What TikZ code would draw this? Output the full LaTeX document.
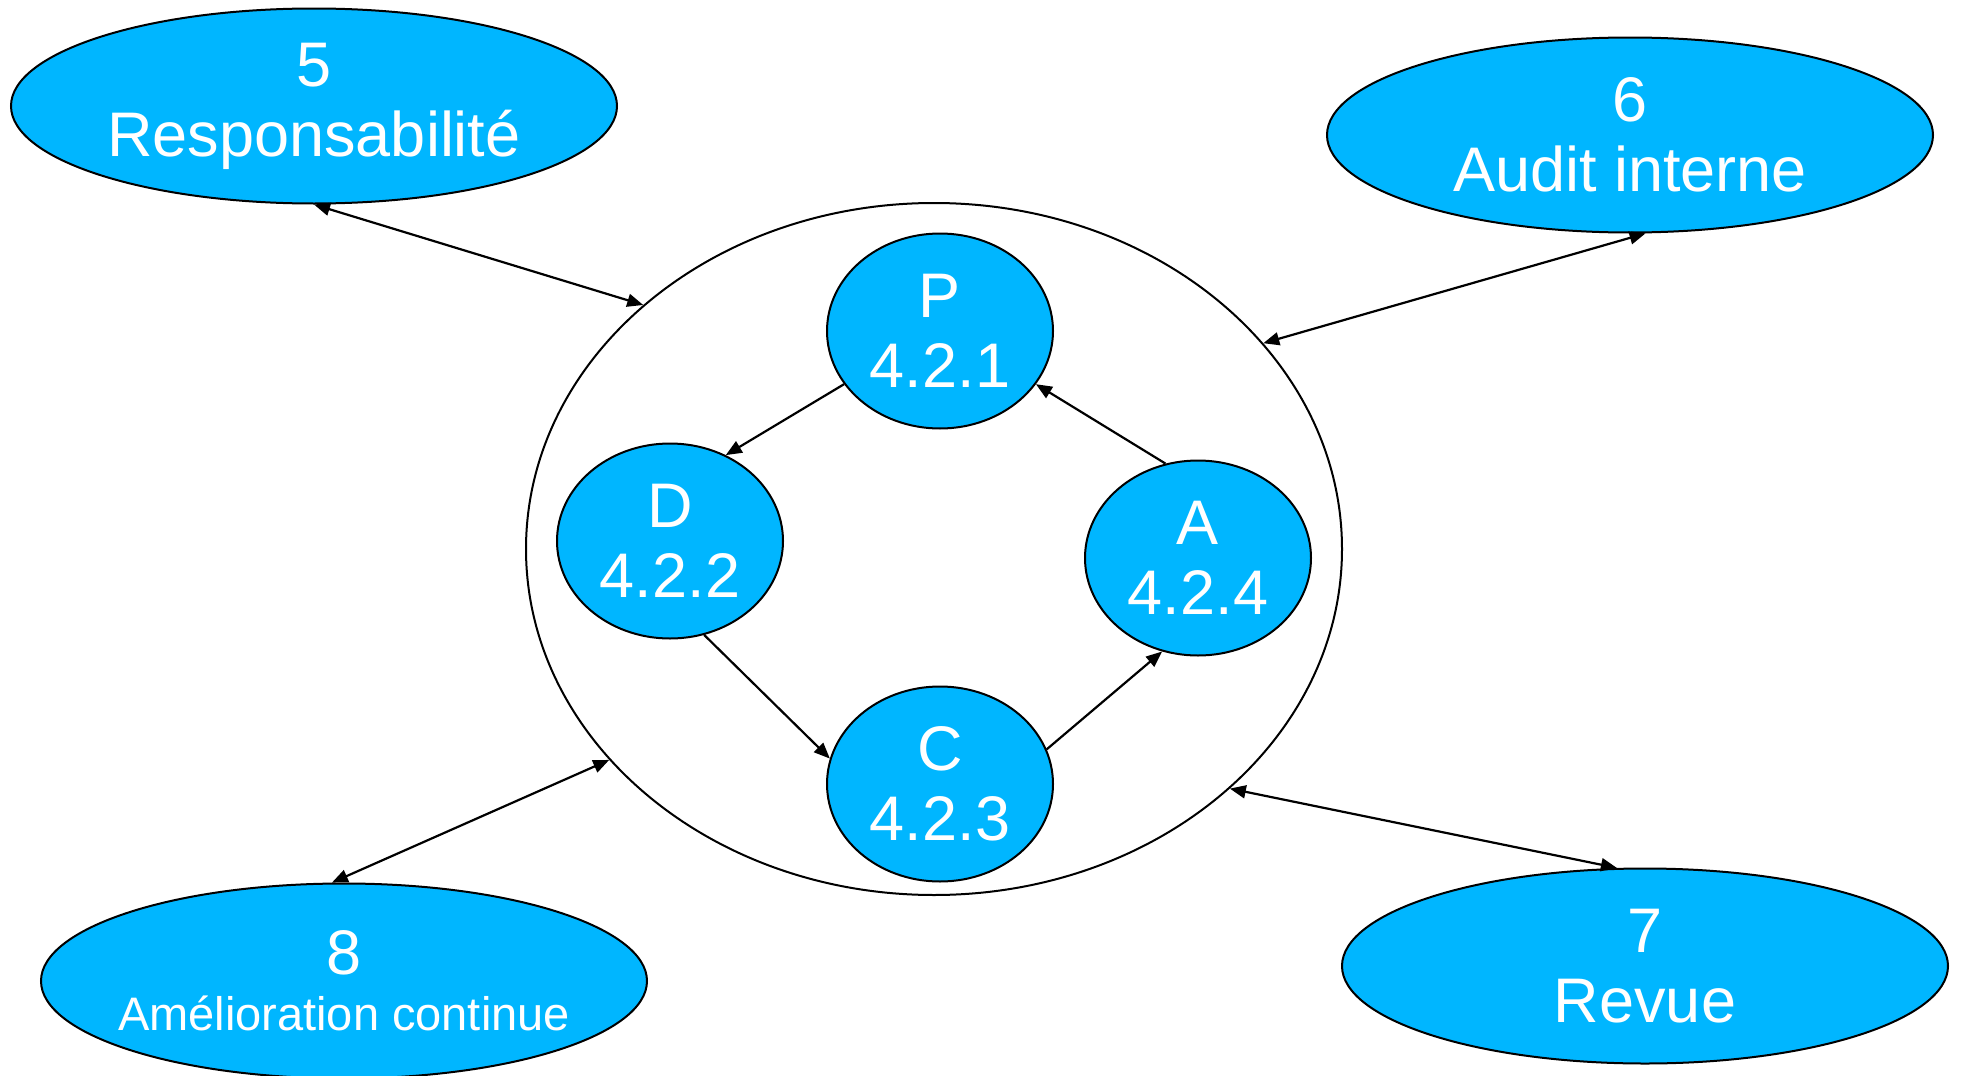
\documentclass[tikz,border=0pt]{standalone}
\usepackage{fontspec}
\setmainfont{Liberation Sans}
\usetikzlibrary{shapes.geometric,arrows.meta}
\definecolor{bleu}{HTML}{00B6FF}
\begin{document}
\begin{tikzpicture}[x=0.5pt,y=-0.5pt,
  bubble/.style={ellipse,draw=black,line width=1pt,fill=bleu,text=white,align=center,inner sep=0pt,
    font=\fontsize{31.5}{35}\selectfont},
  outer/.style={bubble,minimum width=303pt,minimum height=97.5pt},
  inner/.style={bubble,minimum width=113pt,minimum height=97.5pt},
  tip/.tip={Triangle[length=8pt,width=6.5pt]},
  conn/.style={line width=1.1pt,-tip},
  dconn/.style={line width=1.1pt,tip-tip}]
\useasboundingbox (0,0) rectangle (1961,1076);
\node[ellipse,draw=black,line width=1pt,minimum width=408pt,minimum height=346pt,inner sep=0pt] (cyc) at (934,549) {};
\node[outer] (E5) at (314,106) {5\\Responsabilité};
\node[outer] (E6) at (1630,135) {6\\Audit interne};
\node[outer] (E8) at (344,981) {8\\[-7pt]\hbox to 0pt{\hss\fontsize{23.5}{26}\selectfont Amélioration continue\hss}};
\node[outer] (E7) at (1645,966) {7\\Revue};
\node[inner] (P) at (940,331) {P\\4.2.1};
\node[inner] (D) at (670,541) {D\\4.2.2};
\node[inner] (A) at (1198,558) {A\\4.2.4};
\node[inner] (C) at (940,784) {C\\4.2.3};
\draw[conn] (P.209.5) -- (D.57.5);
\draw[conn] (D.290) -- (C.167.5);
\draw[conn] (C.18) -- (A.249.4);
\draw[conn] (A.109.5) -- (P.331.5);
\draw[dconn] (E5.south) -- (cyc.140);
\draw[dconn] (E6.279) -- (cyc.32.6);
\draw[dconn] (E8.97) -- (cyc.213);
\draw[dconn] (E7.106) -- (cyc.321);
\end{tikzpicture}
\end{document}
